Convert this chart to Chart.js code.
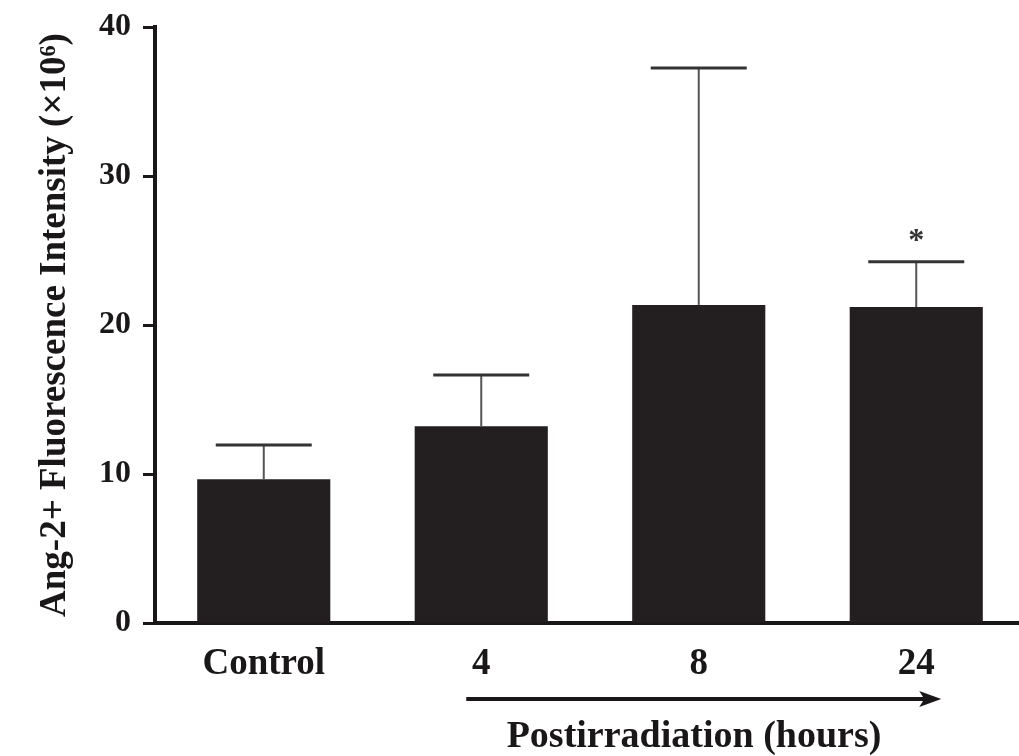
<!DOCTYPE html>
<html>
<head>
<meta charset="utf-8">
<script src="https://cdn.jsdelivr.net/npm/chart.js@4/dist/chart.umd.min.js"></script>
<style>
  body { margin: 0; overflow: hidden; background: #fff; }
  canvas { display: block; }
</style>
</head>
<body>
<canvas id="chart-1" width="1025" height="756"></canvas>
<script>
const categories = ['Control', '4', '8', '24'];
const means = [9.65, 13.2, 21.35, 21.2];
const errors = [2.3, 3.45, 15.9, 3.05];
const marks = ['', '', '', '*'];
const yTicks = [0, 10, 20, 30, 40];

const ink = '#1a1718';
const serif = "'Liberation Serif', 'DejaVu Serif', serif";

// error bars, significance star and the time arrow under the axis
const extras = {
  id: 'extras',
  afterDatasetsDraw(chart) {
    const ctx = chart.ctx;
    const x = chart.scales.x;
    const y = chart.scales.y;
    ctx.save();
    means.forEach((m, i) => {
      const cx = x.getPixelForValue(i);
      const top = y.getPixelForValue(m + errors[i]);
      const base = y.getPixelForValue(m);
      ctx.strokeStyle = '#555';
      ctx.lineWidth = 2;
      ctx.beginPath();
      ctx.moveTo(cx, base);
      ctx.lineTo(cx, top);
      ctx.stroke();
      ctx.strokeStyle = '#333';
      ctx.lineWidth = 3;
      ctx.beginPath();
      ctx.moveTo(cx - 48, top);
      ctx.lineTo(cx + 48, top);
      ctx.stroke();
      if (marks[i]) {
        ctx.fillStyle = '#333';
        ctx.font = `bold 32px ${serif}`;
        ctx.textAlign = 'center';
        ctx.textBaseline = 'middle';
        ctx.fillText(marks[i], cx, top - 20);
      }
    });

    const ay = 699;
    const ax0 = x.getPixelForValue(1) - 15;
    const ax1 = x.getPixelForValue(3) + 25;
    ctx.strokeStyle = ink;
    ctx.lineWidth = 4;
    ctx.beginPath();
    ctx.moveTo(ax0, ay);
    ctx.lineTo(ax1 - 12, ay);
    ctx.stroke();
    ctx.fillStyle = ink;
    ctx.beginPath();
    ctx.moveTo(ax1, ay);
    ctx.lineTo(ax1 - 22, ay - 8);
    ctx.lineTo(ax1 - 17, ay);
    ctx.lineTo(ax1 - 22, ay + 8);
    ctx.closePath();
    ctx.fill();

    ctx.font = `bold 38px ${serif}`;
    ctx.textAlign = 'center';
    ctx.textBaseline = 'middle';
    ctx.fillText('Postirradiation (hours)', 694, 737);
    ctx.restore();
  },
};

const config = {
  type: 'bar',
  data: {
    labels: categories,
    datasets: [
      {
        data: means,
        backgroundColor: '#231f20',
        barPercentage: 0.612,
        categoryPercentage: 1,
      },
    ],
  },
  options: {
    responsive: false,
    animation: false,
    layout: { padding: { top: 27, right: 0, left: 0, bottom: 0 } },
    plugins: {
      legend: { display: false },
      tooltip: { enabled: false },
    },
    scales: {
      x: {
        grid: { display: false, drawTicks: false },
        border: { display: true, color: ink, width: 4 },
        ticks: {
          color: ink,
          padding: 19,
          font: { family: serif, size: 37, weight: 'bold' },
        },
        afterFit: (scale) => {
          scale.height = 133;
        },
      },
      y: {
        min: 0,
        max: 40,
        afterBuildTicks: (scale) => {
          scale.ticks = yTicks.map((v) => ({ value: v }));
        },
        grid: {
          drawOnChartArea: false,
          tickLength: 12,
          tickWidth: 3,
          color: ink,
        },
        border: { display: true, color: ink, width: 4 },
        ticks: {
          color: ink,
          padding: 12,
          font: { family: serif, size: 32, weight: 'bold' },
        },
        title: {
          display: true,
          text: 'Ang-2+ Fluorescence Intensity (×10⁶)',
          color: ink,
          padding: { top: 33, bottom: 0 },
          font: { family: serif, size: 37, weight: 'bold' },
        },
        afterFit: (scale) => {
          scale.width = 155;
          scale.paddingTop = 0;
          scale.paddingBottom = 0;
        },
      },
    },
  },
  plugins: [extras],
};

new Chart(document.getElementById('chart-1'), config);
</script>
</body>
</html>
